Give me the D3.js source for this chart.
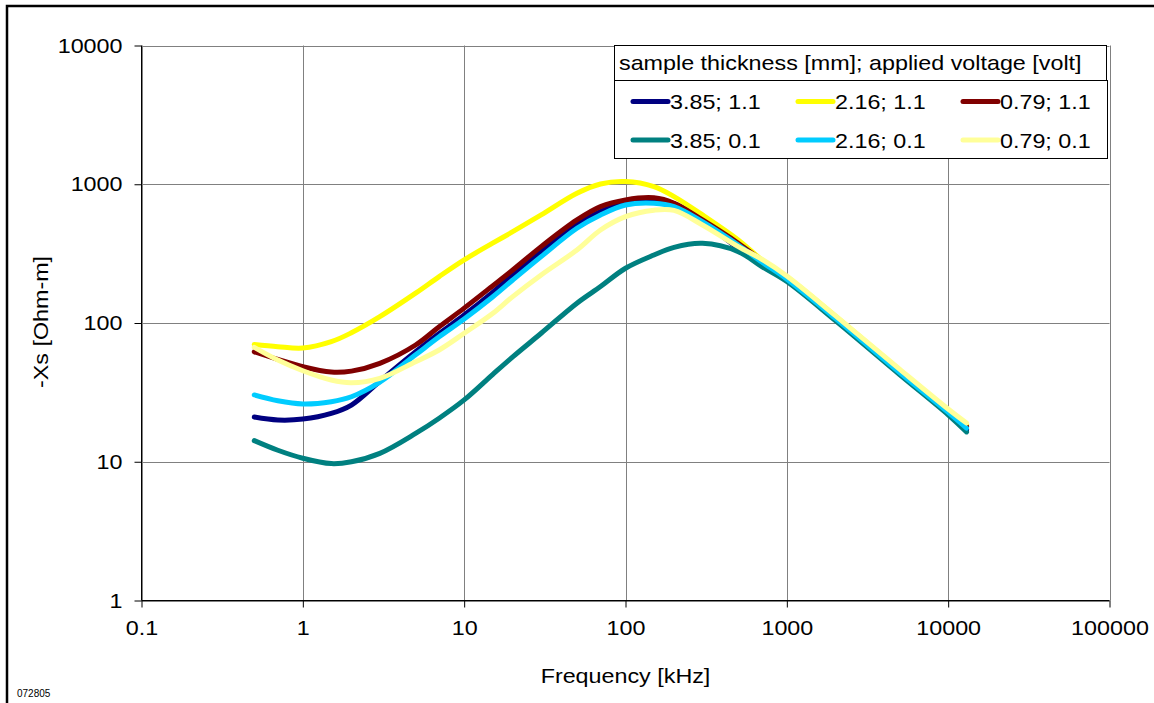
<!DOCTYPE html>
<html>
<head>
<meta charset="utf-8">
<script src="https://cdn.jsdelivr.net/npm/d3@7"></script>
<style>
  body { margin: 0; background: #fff; }
  svg { display: block; font-family: "Liberation Sans", Arial, Helvetica, sans-serif; }
</style>
</head>
<body>
<svg id="chart" width="1154" height="703"></svg>
<script>
// Frequency points (kHz) shared by every measurement series
const freq = [0.5, 0.7, 1, 1.5, 2, 3, 5, 7, 10, 15, 20, 30, 50, 70, 100, 150, 200, 300, 500, 700, 1000, 2000, 5000, 10000, 13000];

// -Xs [Ohm-m] per series: sample thickness [mm]; applied voltage [volt]
const xs_385_11 = [21, 20, 20.3, 22.3, 25.6, 38, 62, 84, 114, 166, 222, 327, 509, 635, 730, 765, 725, 545, 345, 270, 205, 107, 43.5, 22.4, 17];
const xs_216_11 = [70, 67.5, 66, 73.3, 85, 111, 164, 216, 285, 376, 455, 601, 861, 1005, 1045, 961, 814, 601, 397, 285, 215, 112, 45.8, 23.5, 18.6];
const xs_079_11 = [62, 54.7, 48.4, 44.3, 45, 51.2, 69.4, 94, 128, 185, 241, 355, 553, 690, 771, 798, 730, 553, 376, 282, 212, 110, 44.5, 23, 18];
const xs_385_01 = [14.2, 12.1, 10.6, 9.7, 10, 11.5, 16, 20.6, 27.9, 42.5, 57, 84.3, 139, 183, 248, 309, 351, 375, 327, 255, 199, 104, 42.5, 21.8, 16.4];
const xs_216_01 = [30.3, 27.5, 26.1, 27.1, 29.4, 37.5, 59, 79.5, 107, 154, 204, 301, 482, 601, 709, 730, 690, 537, 365, 275, 207, 108, 44, 22.7, 17.5];
const xs_079_01 = [66.8, 54.1, 45.3, 38.8, 37.1, 39.9, 52.6, 63.9, 84.3, 117, 155, 222, 336, 468, 584, 650, 648, 509, 355, 288, 218, 113, 46.5, 24, 19];

const seriesNames = ["3.85; 1.1", "2.16; 1.1", "0.79; 1.1", "3.85; 0.1", "2.16; 0.1", "0.79; 0.1"];
const seriesValues = [xs_385_11, xs_216_11, xs_079_11, xs_385_01, xs_216_01, xs_079_01];
const seriesColors = ["#000080", "#FFFF00", "#800000", "#008080", "#00CCFF", "#FFFF99"];

const xTicks = [0.1, 1, 10, 100, 1000, 10000, 100000];
const yTicks = [1, 10, 100, 1000, 10000];

const legendTitle = "sample thickness [mm]; applied voltage [volt]";
const xTitle = "Frequency [kHz]";
const yTitle = "-Xs [Ohm-m]";
const stamp = "072805";

const FONT = 21;      // px
const WIDEN = 1.11;   // glyphs are set a little wider than the default face

const svg = d3.select("#chart");

// Stretch a text element along its own baseline
function widen(sel) {
  sel.each(function () {
    const len = this.getComputedTextLength();
    d3.select(this).attr("textLength", len * WIDEN).attr("lengthAdjust", "spacingAndGlyphs");
  });
}

// Outer frame
svg.append("rect")
  .attr("x", 7).attr("y", 6)
  .attr("width", 1170).attr("height", 720)
  .attr("fill", "none").attr("stroke", "#000").attr("stroke-width", 2.5);

const plot = { left: 141.5, right: 1109.5, top: 45.5, bottom: 600.5 };

const x = d3.scaleLog().domain([0.1, 100000]).range([plot.left, plot.right]);
const y = d3.scaleLog().domain([1, 10000]).range([plot.bottom, plot.top]);

// Gridlines
const grid = svg.append("g").attr("stroke", "#808080").attr("stroke-width", 1);
grid.selectAll("line.gx").data(xTicks).join("line")
  .attr("x1", d => Math.round(x(d)) + 0.5).attr("x2", d => Math.round(x(d)) + 0.5)
  .attr("y1", plot.top).attr("y2", plot.bottom);
grid.selectAll("line.gy").data(yTicks).join("line")
  .attr("y1", d => Math.round(y(d)) + 0.5).attr("y2", d => Math.round(y(d)) + 0.5)
  .attr("x1", plot.left).attr("x2", plot.right);

// Axes
const fmt = d => String(d);
const xAxis = d3.axisBottom(x).tickValues(xTicks).tickFormat(fmt).tickSize(7).tickPadding(13);
const yAxis = d3.axisLeft(y).tickValues(yTicks).tickFormat(fmt).tickSize(7).tickPadding(12);

const gx = svg.append("g").attr("transform", `translate(0,${plot.bottom})`).call(xAxis);
const gy = svg.append("g").attr("transform", `translate(${plot.left},0)`).call(yAxis);
[gx, gy].forEach(g => {
  g.select(".domain").attr("stroke", "#000").attr("stroke-width", 1);
  g.selectAll(".tick line").attr("stroke", "#000");
  g.selectAll(".tick text").attr("fill", "#000").style("font-size", FONT + "px")
    .style("font-family", '"Liberation Sans", Arial, sans-serif')
    .call(widen);
});
gy.select(".domain").attr("d", `M0,${plot.bottom}V${plot.top}`);
gx.select(".domain").attr("d", `M${plot.left},0H${plot.right}`);

// Series lines
const line = d3.line()
  .x(d => x(d[0]))
  .y(d => y(d[1]))
  .curve(d3.curveCatmullRom.alpha(0.5));

svg.append("g").selectAll("path")
  .data(seriesValues.map((vals, i) => ({ pts: freq.map((f, j) => [f, vals[j]]), color: seriesColors[i] })))
  .join("path")
  .attr("d", d => line(d.pts))
  .attr("fill", "none")
  .attr("stroke", d => d.color)
  .attr("stroke-width", 5)
  .attr("stroke-linejoin", "round")
  .attr("stroke-linecap", "round");

// Axis titles
svg.append("text")
  .attr("x", (plot.left + plot.right) / 2).attr("y", 683)
  .attr("text-anchor", "middle").style("font-size", FONT + "px").text(xTitle).call(widen);

svg.append("text")
  .attr("transform", "translate(48,322) rotate(-90)")
  .attr("text-anchor", "middle").style("font-size", FONT + "px").text(yTitle).call(widen);

svg.append("text")
  .attr("x", 17).attr("y", 697)
  .style("font-size", "10px").text(stamp);

// Legend
const lg = svg.append("g");
lg.append("rect").attr("x", 614.5).attr("y", 45.5).attr("width", 492).attr("height", 35)
  .attr("fill", "#fff").attr("stroke", "#000").attr("stroke-width", 1);
lg.append("text").attr("x", 619).attr("y", 70).style("font-size", FONT + "px").text(legendTitle).call(widen);
lg.append("rect").attr("x", 614.5).attr("y", 80.5).attr("width", 493).attr("height", 78)
  .attr("fill", "#fff").attr("stroke", "#000").attr("stroke-width", 1);

const colX = [633, 798, 963];
const rowY = [101.5, 140];
seriesNames.forEach((name, i) => {
  const cx = colX[i % 3], cy = rowY[Math.floor(i / 3)];
  lg.append("line").attr("x1", cx).attr("x2", cx + 35).attr("y1", cy).attr("y2", cy)
    .attr("stroke", seriesColors[i]).attr("stroke-width", 5).attr("stroke-linecap", "round");
  lg.append("text").attr("x", cx + 37).attr("y", cy + 7.5).style("font-size", FONT + "px").text(name).call(widen);
});
</script>
</body>
</html>
